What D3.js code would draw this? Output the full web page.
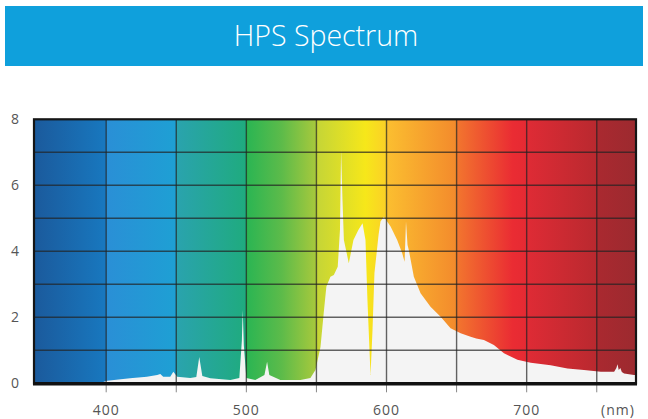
<!DOCTYPE html>
<html><head><meta charset="utf-8">
<script src="https://cdn.jsdelivr.net/npm/d3@7"></script>
<style>
html,body{margin:0;padding:0;background:#fff;}
svg{display:block;}
</style></head>
<body>
<script>
// ---- data ----
const title = "HPS Spectrum";
const wavelengths = [395,400.7,417,429,436.4,438.6,440.7,445.7,447.9,450.7,460,464.3,466.4,468.6,474.3,488.6,495,496.8,497.4,498.2,500,506.4,512.9,514.8,516.4,524.3,538.6,545.7,549.3,552.9,555.2,557.1,560,562.4,565.2,566.8,567.6,568.6,569.6,573.1,576.4,580,582.9,585,586.4,588.6,590,591.4,594.3,595.7,598.1,602.9,607.6,611.2,612.9,613.9,615,615.9,619.5,624.3,631.4,638.6,645.7,652.9,660,664,669.5,676.6,683.8,693.4,702.9,717.1,729.1,740.9,752.9,762.4,764,764.8,765.7,766.8,767.9,769.5,776.6,778];
const intensity =   [0,0.08,0.15,0.2,0.25,0.28,0.2,0.2,0.35,0.2,0.16,0.19,0.8,0.22,0.15,0.1,0.16,1.3,2.22,1.15,0.16,0.1,0.25,0.65,0.25,0.1,0.1,0.16,0.4,1.1,2.13,2.93,3.23,3.28,3.53,4.65,7.07,5.55,4.34,3.64,4.34,4.65,4.85,4.34,2.52,0.25,1.6,3.34,4.49,4.9,5.05,4.75,4.34,3.94,3.68,4.9,4.19,4.04,3.23,2.73,2.32,2.02,1.67,1.52,1.41,1.36,1.31,1.16,0.91,0.71,0.62,0.55,0.45,0.40,0.35,0.35,0.46,0.58,0.4,0.46,0.34,0.3,0.25,0.25];
const xTicks = [400,500,600,700];
const xGrid = [400,450,500,550,600,650,700,750];
const yTicks = [0,2,4,6,8];
const yGrid = [1,2,3,4,5,6,7];
const xDomain = [348.5,778];
const yDomain = [0,8];
const unitLabel = "(nm)";
// background colour stops (nm, colour)
const stopNm =    [348.5,400,400,450,450,500,500,525,550,550,585,600,600,650,650,690,700,700,750,750,778];
const stopColor = ["#1b5a9c","#1878bf","#2a8fd6","#1ea0d4","#2aa3ae","#1fab7e","#2ab553","#5cbb4a","#a8c93c","#c4d537","#f6e71a","#fbd027","#fbbf30","#f38a2c","#f2762e","#ea2c33","#e52a33","#df2b35","#b9292f","#aa2930","#9c2a2f"];

const W=648,H=419;
const svg=d3.select("body").append("svg").attr("width",W).attr("height",H);

// title bar
svg.append("rect").attr("x",5).attr("y",6).attr("width",638).attr("height",60).attr("fill","#0fa0dc");
svg.append("text").attr("x",326).attr("y",46).attr("text-anchor","middle")
  .attr("font-family","'Open Sans',Lato,sans-serif").attr("font-weight",300)
  .attr("font-size",28.5).attr("fill","#fff").text(title);

const x=d3.scaleLinear().domain(xDomain).range([34,636]);
const y=d3.scaleLinear().domain(yDomain).range([383.3,119.3]);

const defs=svg.append("defs");
const grad=defs.append("linearGradient").attr("id","spec").attr("gradientUnits","userSpaceOnUse")
  .attr("x1",x(xDomain[0])).attr("x2",x(xDomain[1])).attr("y1",0).attr("y2",0);
stopNm.forEach((n,i)=>grad.append("stop")
  .attr("offset",(n-xDomain[0])/(xDomain[1]-xDomain[0])).attr("stop-color",stopColor[i]));

svg.append("rect").attr("x",x(xDomain[0])).attr("y",y(8)).attr("width",x(xDomain[1])-x(xDomain[0]))
  .attr("height",y(0)-y(8)).attr("fill","url(#spec)");

const data=wavelengths.map((w,i)=>({w,v:intensity[i]}));
const area=d3.area().x(d=>x(d.w)).y0(y(0)).y1(d=>y(d.v)).curve(d3.curveLinear);
svg.append("path").datum(data).attr("d",area).attr("fill","#f4f4f4");

// grid
const g=svg.append("g");
g.selectAll("line.h").data(yGrid).join("line")
  .attr("x1",x(xDomain[0])).attr("x2",x(xDomain[1])).attr("y1",d=>y(d)).attr("y2",d=>y(d))
  .attr("stroke","#222").attr("stroke-opacity",0.7).attr("stroke-width",1.4);
g.selectAll("line.v").data(xGrid).join("line")
  .attr("x1",d=>x(d)).attr("x2",d=>x(d)).attr("y1",y(8)).attr("y2",y(0))
  .attr("stroke","#222").attr("stroke-opacity",0.7).attr("stroke-width",1.4);
// tick marks below
g.selectAll("line.t").data(xGrid).join("line")
  .attr("x1",d=>x(d)).attr("x2",d=>x(d)).attr("y1",y(0)).attr("y2",y(0)+9)
  .attr("stroke","#888").attr("stroke-width",1);

// frame
svg.append("rect").attr("x",x(xDomain[0])).attr("y",y(8)).attr("width",x(xDomain[1])-x(xDomain[0]))
  .attr("height",y(0)-y(8)).attr("fill","none").attr("stroke","#151515").attr("stroke-width",2.2);
svg.append("line").attr("x1",x(xDomain[0])-1).attr("x2",x(xDomain[1])+1).attr("y1",y(0)+0.5).attr("y2",y(0)+0.5)
  .attr("stroke","#111").attr("stroke-width",3.5);

// labels
const lf="'Open Sans',Lato,sans-serif";
svg.selectAll("text.y").data(yTicks).join("text")
  .attr("x",15).attr("y",d=>y(d)+5).attr("text-anchor","middle")
  .attr("font-family",lf).attr("font-size",14).attr("fill","#555").text(d=>d);
svg.selectAll("text.x").data(xTicks).join("text")
  .attr("x",d=>x(d)).attr("y",415).attr("text-anchor","middle")
  .attr("font-family",lf).attr("font-size",14).attr("fill","#555").attr("letter-spacing",1).text(d=>d);
svg.append("text").attr("x",618).attr("y",415).attr("text-anchor","middle")
  .attr("font-family",lf).attr("font-size",14).attr("fill","#555").attr("letter-spacing",1).text(unitLabel);
</script>
</body></html>
